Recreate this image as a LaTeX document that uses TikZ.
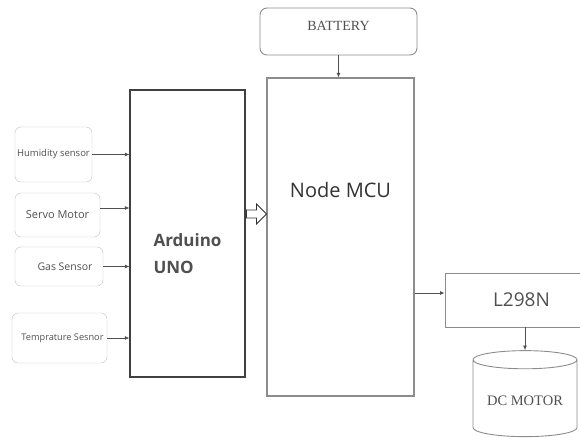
\documentclass[tikz,border=0pt]{standalone}
\usepackage{fontspec}
\setmainfont{Liberation Serif}
\setsansfont{Open Sans}
\usetikzlibrary{shapes.geometric,shapes.arrows,arrows.meta}
\definecolor{edge}{HTML}{8C8C8C}
\definecolor{ink}{HTML}{505050}
\begin{document}
\begin{tikzpicture}[x=1pt,y=-1pt,
    sensor/.style={draw=edge!55, rounded corners=6pt, inner sep=1pt, text=ink,
      font=\sffamily\fontsize{9.5}{11}\selectfont},
    block/.style={draw=edge, line width=1.1pt, inner sep=0pt},
    wire/.style={-{Latex[length=4.5pt,width=4pt]}, line width=0.8pt, ink}]
    \useasboundingbox (0,0) rectangle (580,444);
    % sensors on the left
    \node (hum) [sensor, minimum width=77pt, minimum height=55pt] at (53.5,154.5) {Humidity sensor};
    \node (servo) [sensor, minimum width=85pt, minimum height=44pt, font=\sffamily\fontsize{11}{12}\selectfont] at (57.5,215) {Servo Motor};
    \node (gas) [sensor, minimum width=88pt, minimum height=39pt, font=\sffamily\fontsize{10.5}{12}\selectfont] at (59,266.5) {\hspace{12pt}Gas Sensor};
    \node (temp) [sensor, minimum width=95pt, minimum height=50pt, font=\sffamily\fontsize{9.2}{10}\selectfont] at (59.5,338) {\hspace{6pt}Temprature Sesnor};
    % boards
    \node (uno) [block, draw=black!75, minimum width=115pt, minimum height=287pt,
        label={[align=left, text=ink, font=\sffamily\bfseries\fontsize{17}{27}\selectfont, yshift=-20pt]center:Arduino\\UNO}] at (187.5,233.5) {};
    \node (mcu) [block, minimum width=147pt, minimum height=318pt,
        label={[text=black!80, font=\sffamily\fontsize{20}{22}\selectfont, yshift=47pt]center:Node MCU}] at (340.5,237) {};
    \node (bat) [block, line width=0.9pt, rounded corners=7pt, minimum width=157pt, minimum height=47pt,
        text=ink, font=\fontsize{14}{16}\selectfont, text depth=12pt] at (338.5,31.5) {BATTERY};
    \node (drv) [block, line width=0.9pt, minimum width=137pt, minimum height=54pt, text=ink,
        font=\sffamily\fontsize{19}{21}\selectfont] at (513.5,300) {\hspace{16pt}L298N};
    \node (motor) [cylinder, shape border rotate=90, draw=edge, line width=0.9pt, aspect=0.22,
        minimum width=104pt, minimum height=86pt, text=ink, font=\fontsize{14.5}{16}\selectfont] at (525,400) {\raisebox{-12pt}{DC MOTOR}};
    \node (link) [single arrow, draw=black!80, line width=0.9pt, inner sep=3.5pt, minimum width=20pt,
        single arrow head extend=6pt, minimum height=20pt] at (254.5,214) {};
    % connectors
    \draw[wire] (hum.east) -- (hum.east -| uno.west);
    \draw[wire] ([yshift=7pt]servo.east) -- ([yshift=7pt]servo.east -| uno.west);
    \draw[wire] (gas.east) -- (gas.east -| uno.west);
    \draw[wire] (temp.east) -- (temp.east -| uno.west);
    \draw[wire] (bat.south) -- (bat.south |- mcu.north);
    \draw[wire] ([yshift=7pt]drv.west -| mcu.east) -- ([yshift=7pt]drv.west);
    \draw[wire] (motor.north |- drv.south) -- (motor.north);
\end{tikzpicture}
\end{document}
